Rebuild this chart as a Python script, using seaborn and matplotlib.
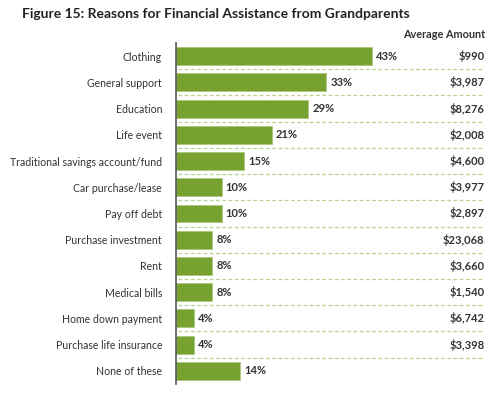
import matplotlib
matplotlib.use("Agg")
import matplotlib.pyplot as plt
import seaborn as sns
import pandas as pd

reasons = ["Clothing", "General support", "Education", "Life event",
           "Traditional savings account/fund", "Car purchase/lease", "Pay off debt",
           "Purchase investment", "Rent", "Medical bills", "Home down payment",
           "Purchase life insurance", "None of these"]
shares = [43, 33, 29, 21, 15, 10, 10, 8, 8, 8, 4, 4, 14]
amounts = ["$990", "$3,987", "$8,276", "$2,008", "$4,600", "$3,977", "$2,897",
           "$23,068", "$3,660", "$1,540", "$6,742", "$3,398", ""]

df = pd.DataFrame({"reason": reasons, "share": shares, "amount": amounts})

sns.set_style("white")
plt.rcParams["font.family"] = ["Lato", "DejaVu Sans"]

bar_color = "#77a22f"
text_color = "#333333"

fig = plt.figure(figsize=(5, 3.95), dpi=100)
ax = fig.add_axes([0.352, 0.028, 0.62, 0.863])

sns.barplot(data=df, x="share", y="reason", color=bar_color, width=0.68,
            saturation=1, ax=ax, edgecolor="#a9c97a", linewidth=0.6)

ax.set_xlim(0, 68)
ax.set_ylim(len(reasons) - 0.5, -0.5)
ax.set_xlabel("")
ax.set_ylabel("")
ax.set_xticks([])
ax.tick_params(axis="y", length=0, pad=10, labelsize=7.6, labelcolor=text_color)

for s in ["top", "right", "bottom"]:
    ax.spines[s].set_visible(False)
ax.spines["left"].set_color("#555555")
ax.spines["left"].set_linewidth(1.2)

# dashed separators between rows
for i in range(len(reasons) - 1):
    ax.axhline(i + 0.5, xmin=0.005, xmax=0.99, color="#b7d48e", linestyle=(0, (3, 2)),
               linewidth=0.9)

for i, (v, amt) in enumerate(zip(shares, amounts)):
    ax.text(v + 0.9, i, f"{v}%", va="center", ha="left", fontsize=8,
            fontweight="bold", color=text_color)
    if amt:
        ax.text(0.995, i, amt, transform=ax.get_yaxis_transform(), va="center",
                ha="right", fontsize=8, fontweight="bold", color=text_color)

fig.text(0.044, 0.965, "Figure 15: Reasons for Financial Assistance from Grandparents",
         fontsize=10, fontweight="bold", color="#222222", va="center", ha="left")
fig.text(0.97, 0.912, "Average Amount", fontsize=7.8, fontweight="bold",
         color=text_color, va="center", ha="right")

fig.savefig("out.png", dpi=100)
